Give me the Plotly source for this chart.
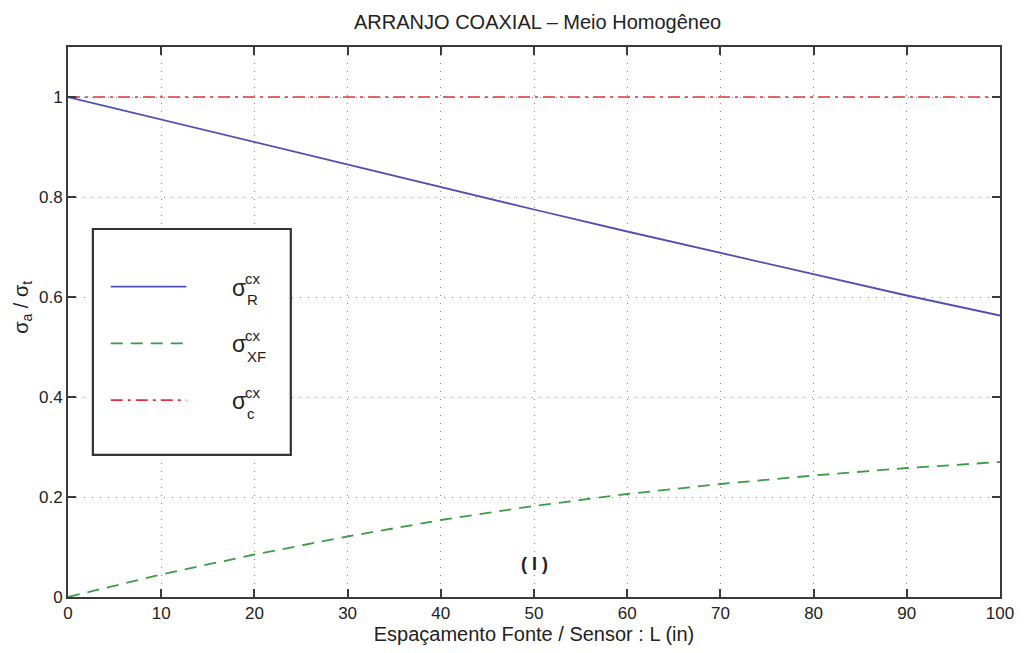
import plotly.graph_objects as go

L = [0, 10, 20, 30, 40, 50, 60, 70, 80, 90, 100]
sigma_R = [1.0, 0.955, 0.909, 0.864, 0.819, 0.775, 0.731, 0.688, 0.645, 0.603, 0.563]
sigma_XF = [0.0, 0.045, 0.085, 0.121, 0.154, 0.182, 0.206, 0.226, 0.243, 0.258, 0.270]
sigma_c = [1.0] * len(L)

x_ticks = [0, 10, 20, 30, 40, 50, 60, 70, 80, 90, 100]
y_ticks = [0, 0.2, 0.4, 0.6, 0.8, 1]
y_tick_labels = ["0", "0.2", "0.4", "0.6", "0.8", "1"]

legend_subs = ["R", "XF", "c"]

FONT = "Liberation Sans, Arial"
BLUE = "#5050b2"
GREEN = "#3d9c45"
RED = "#e0303f"
FRAME = "#3a3a3a"
TXT = "#222222"

DASH_XF = "12px,8px"
DASH_C = "12px,5px,3px,5px"

# plot-area geometry in pixels (for paper-coordinate placement of legend)
PX0, PX1, PY0, PY1 = 68, 1005, 47, 600


def px(p):
    return (p - PX0) / (PX1 - PX0)


def py(p):
    return (PY1 - p) / (PY1 - PY0)


fig = go.Figure()
fig.add_trace(go.Scatter(x=L, y=sigma_R, mode="lines", line=dict(color=BLUE, width=1.8), showlegend=False))
fig.add_trace(go.Scatter(x=L, y=sigma_XF, mode="lines", line=dict(color=GREEN, width=1.8, dash=DASH_XF), showlegend=False))
fig.add_trace(go.Scatter(x=L, y=sigma_c, mode="lines", line=dict(color=RED, width=1.6, dash=DASH_C), showlegend=False))

# manual legend box
fig.add_shape(type="rect", xref="paper", yref="paper", x0=px(93), x1=px(292), y0=py(457), y1=py(230),
              line=dict(color="#333333", width=2.2), fillcolor="white", layer="above")
entries = [
    (288, BLUE, "solid", legend_subs[0]),
    (345, GREEN, DASH_XF, legend_subs[1]),
    (402, RED, DASH_C, legend_subs[2]),
]
for ly, col, dash, sub in entries:
    fig.add_shape(type="line", xref="paper", yref="paper", x0=px(111), x1=px(187), y0=py(ly), y1=py(ly),
                  line=dict(color=col, width=1.8, dash=dash), layer="above")
    fig.add_annotation(xref="paper", yref="paper", x=px(231), y=py(ly + 1), text="σ", showarrow=False,
                       font=dict(family=FONT, size=23, color=TXT), xanchor="left", yanchor="middle")
    fig.add_annotation(xref="paper", yref="paper", x=px(244), y=py(ly - 8), text="cx", showarrow=False,
                       font=dict(family=FONT, size=15, color=TXT), xanchor="left", yanchor="middle")
    fig.add_annotation(xref="paper", yref="paper", x=px(246), y=py(ly + 13), text=sub, showarrow=False,
                       font=dict(family=FONT, size=15, color=TXT), xanchor="left", yanchor="middle")

fig.add_annotation(x=50, y=0.066, text="<b>( I )</b>", showarrow=False,
                   font=dict(family=FONT, size=18, color=TXT))

# y-axis label
fig.add_annotation(xref="paper", yref="paper", x=px(22), y=py(309), text="σ<sub>a</sub> / σ<sub>t</sub>",
                   textangle=-90, showarrow=False, font=dict(family=FONT, size=20, color=TXT),
                   xanchor="center", yanchor="middle")

fig.update_layout(
    width=1026, height=653,
    margin=dict(l=68, r=21, t=47, b=53),
    paper_bgcolor="white", plot_bgcolor="white",
    title=dict(text="ARRANJO COAXIAL – Meio Homogêneo", x=0.524, xanchor="center", y=0.966, yanchor="middle",
               font=dict(family=FONT, size=20, color=TXT)),
    font=dict(family=FONT, size=16, color=TXT),
)
fig.update_xaxes(range=[0, 100], tickvals=x_ticks, ticks="inside", ticklen=8, tickcolor=FRAME, tickwidth=1.5,
                 showline=True, linecolor=FRAME, linewidth=2, mirror="ticks",
                 showgrid=True, gridcolor="#8a8a8a", griddash="1px,7px", gridwidth=1.2, zeroline=False,
                 title=dict(text="Espaçamento Fonte / Sensor : L (in)", standoff=4, font=dict(size=20)),
                 tickfont=dict(size=17))
fig.update_yaxes(range=[0, 1.1], tickvals=y_ticks, ticktext=y_tick_labels, ticks="inside", ticklen=8,
                 tickcolor=FRAME, tickwidth=1.5, showline=True, linecolor=FRAME, linewidth=2, mirror="ticks",
                 showgrid=True, gridcolor="#8a8a8a", griddash="1px,7px", gridwidth=1.2, zeroline=False,
                 tickfont=dict(size=17))

fig.write_html("out.html")
